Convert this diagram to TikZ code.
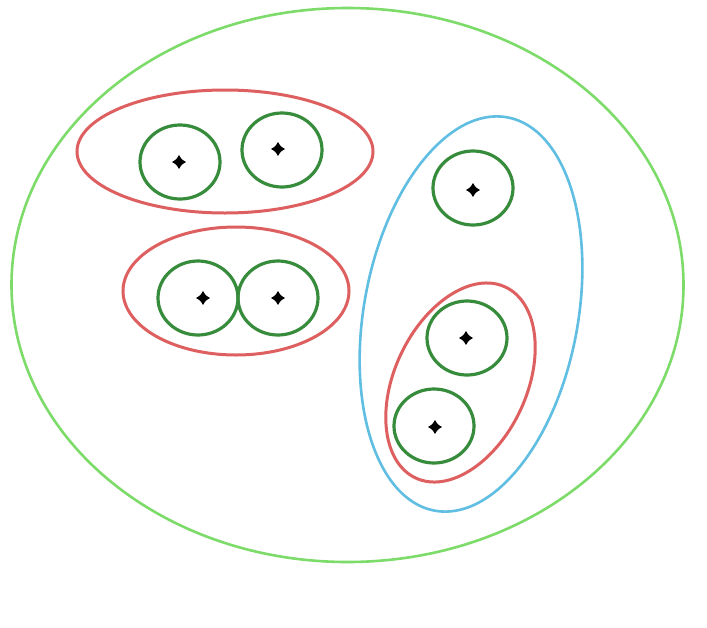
\documentclass[tikz,border=0pt]{standalone}
\usetikzlibrary{shapes.geometric}
\definecolor{outergreen}{RGB}{125,220,105}
\definecolor{setred}{RGB}{222,95,95}
\definecolor{setblue}{RGB}{95,190,225}
\definecolor{elemgreen}{RGB}{55,140,60}
\tikzset{
  outerset/.style={draw=outergreen,line width=2.6pt},
  redset/.style={draw=setred,line width=3pt},
  blueset/.style={draw=setblue,line width=2.6pt},
  elem/.style={draw=elemgreen,line width=3.2pt,ellipse,minimum width=80pt,minimum height=74pt,inner sep=0pt},
  stardot/.pic={
    \fill[black] (0,-7) .. controls (2.6,-2.6) .. (7,0) .. controls (2.6,2.6) .. (0,7) .. controls (-2.6,2.6) .. (-7,0) .. controls (-2.6,-2.6) .. (0,-7) -- cycle;
    \fill[black] (0,0) circle [radius=3.4pt];
  }
}
\begin{document}
\begin{tikzpicture}[x=1pt,y=-1pt]
\useasboundingbox[fill=white] (0,0) rectangle (707,627);
% outer set
\draw[outerset] (347.5,285) ellipse [x radius=336, y radius=277];
% red sets
\draw[redset] (225,151.5) ellipse [x radius=148, y radius=61.5];
\draw[redset] (236,291) ellipse [x radius=113, y radius=64];
\draw[redset,rotate around={64.8:(460.5,382.5)}] (460.5,382.5) ellipse [x radius=105.5, y radius=66];
% blue set
\draw[blueset,rotate around={79.5:(471,314)}] (471,314) ellipse [x radius=200, y radius=107];
% elements
\node[elem] (c1) at (180,162) {};
\node[elem] (c2) at (282,150) {};
\node[elem] (c3) at (198,298) {};
\node[elem] (c4) at (278,298) {};
\node[elem] (c5) at (473,188) {};
\node[elem] (c6) at (467,338) {};
\node[elem] (c7) at (434,426) {};
% dots
\pic at (179,162) {stardot};
\pic at (278,149) {stardot};
\pic at (203,298) {stardot};
\pic at (278,298) {stardot};
\pic at (473,190) {stardot};
\pic at (466,338) {stardot};
\pic at (435,427) {stardot};
\end{tikzpicture}
\end{document}
